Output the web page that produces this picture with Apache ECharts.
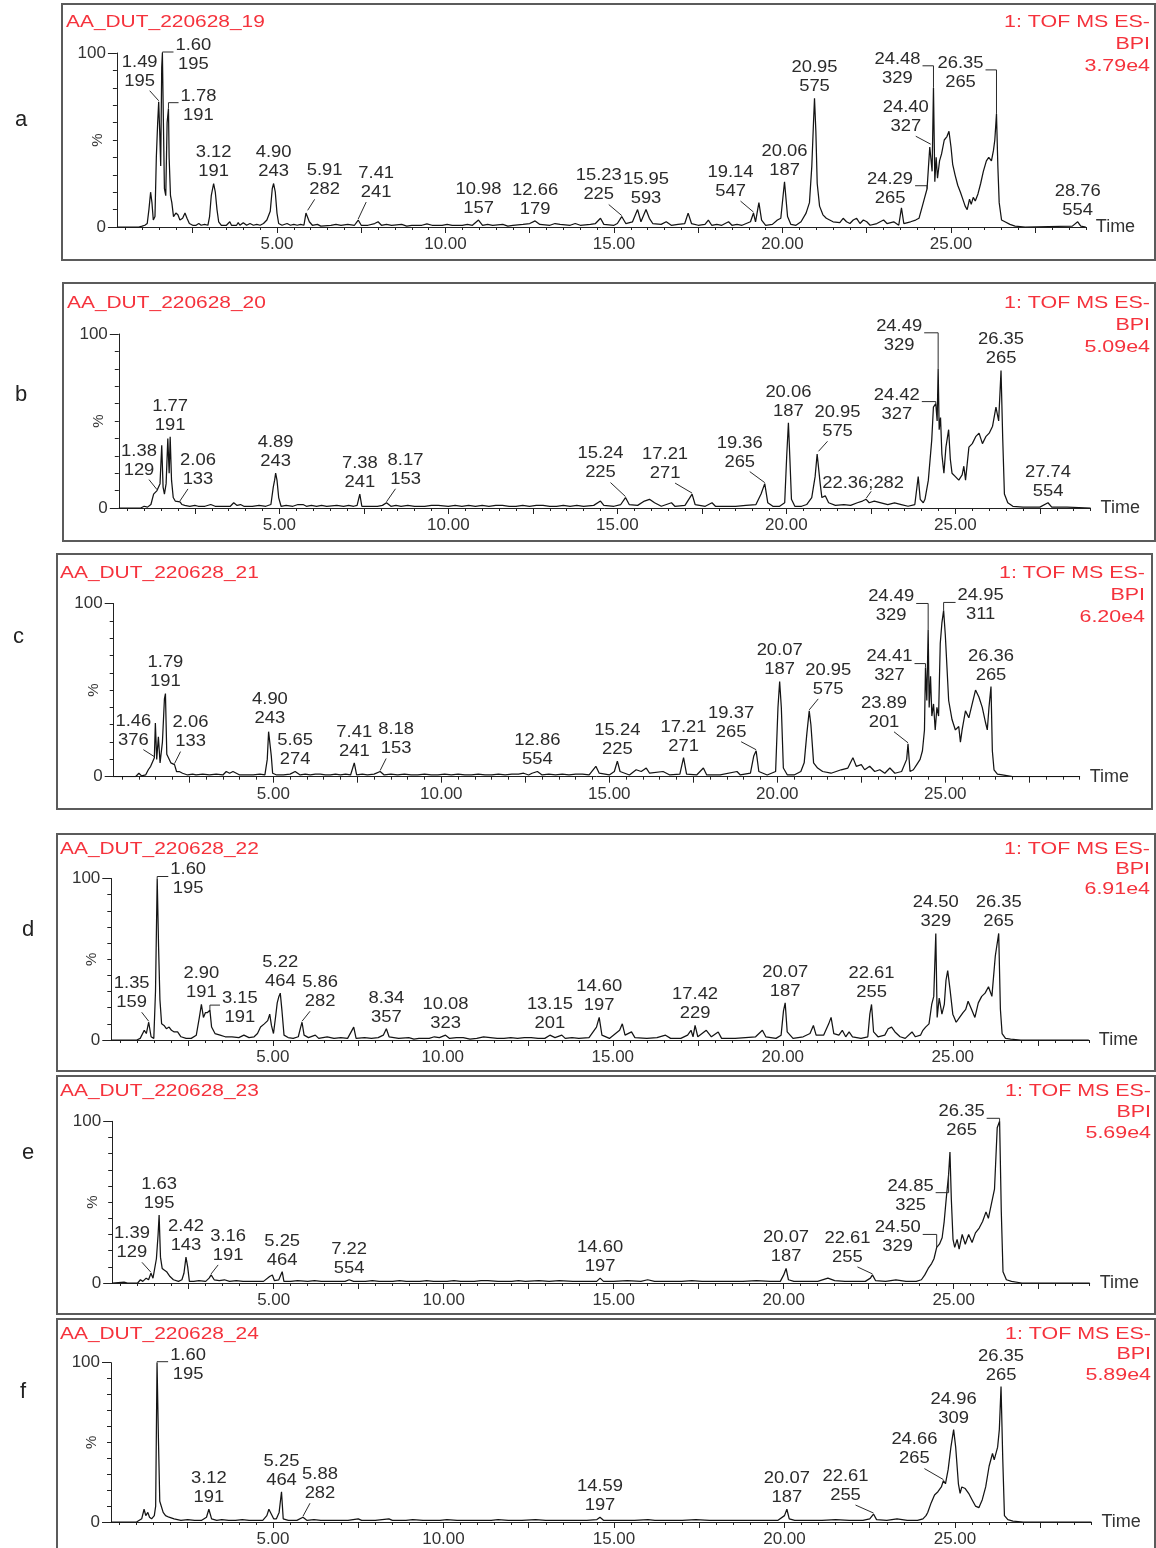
<!DOCTYPE html>
<html>
<head>
<meta charset="utf-8">
<script src="https://cdn.jsdelivr.net/npm/echarts@6/dist/echarts.min.js"></script>
<style>
  html, body { margin: 0; padding: 0; background: #fff; }
  #chart { width: 1156px; height: 1548px; }
</style>
</head>
<body>
<div id="chart"></div>
<script>
// ---------- data: base peak intensity chromatograms (retention time in min, relative %) ----------
const sampleNames = ['AA_DUT_220628_19', 'AA_DUT_220628_20', 'AA_DUT_220628_21',
                     'AA_DUT_220628_22', 'AA_DUT_220628_23', 'AA_DUT_220628_24'];
const bpiMax = ['3.79e4', '5.09e4', '6.20e4', '6.91e4', '5.69e4', '5.89e4'];
const panelLetters = ['a', 'b', 'c', 'd', 'e', 'f'];

const xLabelValues = [5, 10, 15, 20, 25];
const xMajorTicks = [2.5, 5, 7.5, 10, 12.5, 15, 17.5, 20, 22.5, 25, 27.5];
const xMinorTicks = [0.5, 1, 1.5, 2, 3, 3.5, 4, 4.5, 5.5, 6, 6.5, 7, 8, 8.5, 9, 9.5, 10.5, 11, 11.5, 12,
  13, 13.5, 14, 14.5, 15.5, 16, 16.5, 17, 18, 18.5, 19, 19.5, 20.5, 21, 21.5, 22, 23, 23.5, 24, 24.5,
  25.5, 26, 26.5, 27, 28, 28.5, 29];
const yLabelValues = [0, 100];
const yMinorTicks = [10, 20, 30, 40, 50, 60, 70, 80, 90];

const traceA = [[0.25,0],[0.9,0],[1.0,0.5],[1.08,1],[1.15,2],[1.2,10],[1.25,20],[1.29,14],[1.33,4],[1.38,6],[1.42,40],[1.46,60],[1.49,72],[1.52,55],[1.55,35],[1.58,92],[1.60,100],[1.63,60],[1.66,22],[1.7,18],[1.74,60],[1.78,68],[1.8,40],[1.84,18],[1.88,14],[1.93,6],[2.0,8],[2.06,7],[2.12,4],[2.2,5],[2.27,8],[2.33,5],[2.4,2],[2.5,1],[2.6,1],[2.68,2],[2.75,1],[2.85,1.5],[2.95,1],[3.0,6],[3.05,18],[3.12,25],[3.17,20],[3.22,10],[3.27,3],[3.35,1],[3.5,1],[3.6,3],[3.65,1],[3.7,2],[3.8,1],[3.85,2.5],[3.9,1],[4.0,2.5],[4.1,1],[4.2,2],[4.3,1],[4.4,1.5],[4.5,1],[4.6,2],[4.7,4],[4.8,9],[4.86,22],[4.90,25],[4.95,20],[5.0,8],[5.05,2],[5.15,1],[5.3,2],[5.4,1],[5.5,1.5],[5.6,1],[5.7,1.5],[5.8,1],[5.86,8],[5.91,9],[5.96,3],[6.05,1],[6.2,1.5],[6.3,0.5],[6.6,1],[6.75,1.5],[6.9,1],[7.1,1.5],[7.3,1],[7.41,4],[7.5,1],[7.7,1],[7.9,2],[8.0,3],[8.1,1],[8.25,1.5],[8.4,1],[8.7,1.5],[8.85,0.5],[9.0,1],[9.3,1],[9.45,1.8],[9.6,1],[9.9,1],[10.05,1.5],[10.2,1],[10.5,1],[10.65,1.5],[10.8,1],[10.98,4],[11.1,1],[11.25,1.5],[11.4,1],[11.7,1.5],[11.85,0.5],[12.0,1],[12.3,1.5],[12.5,2],[12.66,3.5],[12.8,1.5],[13.1,1],[13.25,2],[13.4,1.5],[13.7,1],[13.85,2],[14.0,1],[14.3,1.5],[14.45,2],[14.6,5],[14.7,1.5],[15.0,1],[15.1,2],[15.23,6],[15.35,2],[15.55,3],[15.7,10],[15.8,3],[15.95,10],[16.05,5],[16.15,2],[16.4,1.5],[16.55,3],[16.7,1],[16.9,1.5],[17.1,2],[17.2,8],[17.3,2],[17.5,1],[17.7,1.5],[17.8,4],[17.9,1],[18.05,1.5],[18.2,1],[18.4,3],[18.5,1],[18.65,1.5],[18.8,1],[19.05,3],[19.14,8],[19.2,3],[19.3,14],[19.38,4],[19.5,1],[19.7,1.5],[19.85,4],[19.95,5],[20.06,26],[20.15,6],[20.25,1.5],[20.4,1],[20.55,3],[20.7,8],[20.8,14],[20.87,35],[20.92,60],[20.95,74],[20.99,55],[21.03,25],[21.1,12],[21.2,7],[21.3,5],[21.5,3],[21.7,2.5],[21.8,5],[21.9,3],[22.0,2],[22.1,4],[22.2,5],[22.3,2],[22.4,4],[22.5,3],[22.6,1],[22.8,2],[23.0,4],[23.1,2],[23.3,3],[23.45,1],[23.53,11],[23.6,2],[23.8,3],[23.95,4],[24.05,5],[24.15,12],[24.22,17],[24.29,22],[24.33,34],[24.37,46],[24.40,47],[24.44,32],[24.48,80],[24.52,26],[24.56,40],[24.6,28],[24.66,38],[24.72,42],[24.8,50],[24.88,52],[24.94,55],[25.0,46],[25.05,36],[25.12,30],[25.2,24],[25.28,20],[25.35,16],[25.42,12],[25.48,10],[25.55,16],[25.6,13],[25.66,17],[25.72,15],[25.8,19],[25.88,25],[25.96,32],[26.05,38],[26.12,40],[26.2,38],[26.26,44],[26.3,50],[26.35,65],[26.39,35],[26.43,14],[26.5,4],[26.6,3],[26.75,1.5],[26.9,0.5],[27.2,0],[28.6,0.5],[28.76,3],[28.85,0.5],[29,0]];

const traceB = [[0.25,0],[0.9,0],[1.0,1],[1.1,0.5],[1.2,2],[1.28,8],[1.33,9],[1.38,10],[1.43,9],[1.47,14],[1.52,36],[1.56,12],[1.6,8],[1.65,14],[1.7,40],[1.74,20],[1.77,41],[1.81,16],[1.86,6],[1.92,4],[1.97,3],[2.06,3.5],[2.12,2],[2.2,1.5],[2.35,1],[2.5,1.5],[2.6,1],[2.8,1],[2.97,2],[3.1,1],[3.3,1],[3.55,1],[3.65,3],[3.75,1.5],[3.85,2],[3.95,1],[4.2,1],[4.4,1.5],[4.6,1],[4.75,2],[4.82,12],[4.86,16],[4.89,20],[4.93,16],[4.98,6],[5.05,1],[5.2,1.5],[5.4,1],[5.55,2],[5.7,2],[5.8,1],[5.95,1.5],[6.1,1],[6.25,1.5],[6.4,1],[6.7,1.5],[6.9,1],[7.05,1.5],[7.2,1],[7.3,1.5],[7.38,8],[7.44,1],[7.6,1],[7.9,1],[8.05,1.5],[8.17,3],[8.3,1],[8.45,1.5],[8.6,1],[8.8,1.5],[9.0,1],[9.3,1],[9.5,1.5],[9.7,1.5],[10.0,1],[10.2,1.5],[10.4,1],[10.6,1.5],[10.8,1],[11.0,1.5],[11.2,1],[11.4,1.5],[11.6,1.5],[11.8,1],[12.0,1],[12.2,1.5],[12.4,1],[12.6,1.5],[12.8,1.5],[13.0,1],[13.2,1],[13.4,1.5],[13.6,1],[13.8,1.5],[14.0,1],[14.3,1.5],[14.5,4],[14.6,1.5],[14.9,1],[15.1,2],[15.24,6],[15.35,2],[15.6,1.5],[15.8,4],[15.95,5],[16.1,3],[16.3,1],[16.6,3],[16.7,1],[17.0,1.5],[17.21,8],[17.3,2],[17.6,1],[17.8,3],[17.9,1],[18.2,1],[18.5,1],[18.8,1.5],[19.1,2],[19.25,8],[19.36,14],[19.45,3],[19.6,1],[19.8,1],[19.95,3],[20.01,30],[20.06,49],[20.1,30],[20.15,5],[20.25,1],[20.45,1],[20.6,2],[20.75,6],[20.85,18],[20.91,31],[20.95,32],[21.0,14],[21.05,6],[21.15,7],[21.25,3],[21.45,1.5],[21.7,2],[21.9,1.5],[22.1,3],[22.25,4],[22.36,5],[22.45,3],[22.6,4],[22.8,3],[23.0,2],[23.2,3],[23.4,2],[23.6,1],[23.8,2],[23.9,18],[23.96,5],[24.05,3],[24.1,5],[24.2,16],[24.3,39],[24.35,58],[24.42,60],[24.46,50],[24.49,80],[24.52,45],[24.56,52],[24.6,31],[24.66,20],[24.72,35],[24.8,45],[24.85,28],[24.9,20],[25.0,18],[25.1,16],[25.2,19],[25.25,24],[25.3,16],[25.4,35],[25.5,37],[25.6,41],[25.7,43],[25.8,37],[25.9,41],[26.0,43],[26.1,47],[26.2,58],[26.28,50],[26.35,79],[26.4,40],[26.45,8],[26.55,3],[26.7,1],[27.0,0.5],[27.5,0.5],[27.74,3],[27.85,0.5],[28.3,0.5],[29,0]];

const traceC = [[0.25,0],[0.9,0],[1.0,2],[1.08,0.5],[1.2,1],[1.28,4],[1.35,6],[1.4,6],[1.46,11],[1.49,31],[1.53,10],[1.58,23],[1.63,8],[1.7,20],[1.76,45],[1.79,48],[1.83,13],[1.88,14],[1.95,8],[2.06,7],[2.12,3],[2.2,3],[2.3,2],[2.45,1],[2.6,1.5],[2.7,1],[2.9,1.5],[3.1,1],[3.3,1.5],[3.5,1],[3.6,3],[3.7,2],[3.8,3],[3.9,2],[4.0,1],[4.2,1],[4.4,1],[4.6,1.5],[4.75,1],[4.82,10],[4.86,26],[4.90,27],[4.94,12],[4.98,2],[5.1,1],[5.3,1],[5.5,1.5],[5.65,3],[5.8,1],[5.95,1.5],[6.1,1],[6.25,1.5],[6.4,1.5],[6.55,1],[6.7,1],[6.85,1.5],[7.0,1],[7.15,1.5],[7.3,1],[7.41,8],[7.48,1],[7.65,1.5],[7.8,1],[8.0,1.5],[8.18,3],[8.3,1],[8.5,1.5],[8.7,1],[8.9,1.5],[9.1,1],[9.3,1],[9.5,1.5],[9.7,1],[9.9,1],[10.1,1.5],[10.3,1],[10.5,1.5],[10.7,1],[10.9,1],[11.1,1.5],[11.3,1],[11.5,1],[11.7,1.5],[11.9,1],[12.1,1.5],[12.3,1.5],[12.45,2],[12.6,1],[12.7,2],[12.86,3],[13.0,1],[13.2,1.5],[13.4,1],[13.6,1.5],[13.8,1],[14.0,1.5],[14.2,1.5],[14.4,1],[14.6,6],[14.7,2],[15.0,1],[15.15,3],[15.24,9],[15.32,3],[15.6,1],[15.8,4],[15.95,3],[16.1,5],[16.2,2],[16.6,3],[16.8,1],[17.1,1.5],[17.21,11],[17.3,1.5],[17.6,1],[17.8,5],[17.9,1],[18.3,1],[18.8,3],[18.9,1],[19.2,2],[19.3,12],[19.37,15],[19.45,3],[19.7,1],[19.95,3],[20.02,40],[20.07,55],[20.12,40],[20.18,5],[20.3,1],[20.5,1],[20.7,3],[20.8,8],[20.88,25],[20.95,38],[21.0,30],[21.08,8],[21.2,5],[21.35,3],[21.6,2],[21.9,4],[22.1,5],[22.25,11],[22.35,6],[22.5,7],[22.6,4],[22.75,6],[22.9,3],[23.05,4],[23.2,2],[23.35,5],[23.5,2],[23.7,3],[23.85,10],[23.89,19],[23.95,3],[24.05,4],[24.15,7],[24.25,10],[24.32,15],[24.38,27],[24.41,63],[24.45,44],[24.49,85],[24.52,40],[24.56,58],[24.6,35],[24.65,42],[24.7,27],[24.75,40],[24.8,35],[24.85,77],[24.9,89],[24.95,96],[25.0,82],[25.05,63],[25.1,44],[25.2,33],[25.3,27],[25.4,29],[25.45,20],[25.5,27],[25.6,38],[25.7,34],[25.8,42],[25.9,50],[26.0,46],[26.1,40],[26.2,31],[26.25,27],[26.3,40],[26.36,52],[26.4,15],[26.45,4],[26.55,1.5],[26.7,1],[27.0,0],[29,0]];

const traceD = [[0.25,0],[1.0,0],[1.1,1],[1.22,6],[1.28,4],[1.35,11],[1.42,2],[1.5,1],[1.55,30],[1.60,100],[1.64,58],[1.68,25],[1.73,10],[1.8,9],[1.87,7],[1.95,8],[2.02,6],[2.1,5],[2.2,5],[2.3,2],[2.45,1],[2.6,1],[2.75,3],[2.84,14],[2.90,22],[2.96,14],[3.02,17],[3.08,17],[3.15,18.5],[3.2,8],[3.3,4],[3.45,3],[3.6,2],[3.8,2],[4.0,1.5],[4.15,3],[4.3,1.5],[4.45,2],[4.55,4],[4.64,8],[4.75,10],[4.85,12],[4.91,16],[4.96,9],[5.02,4],[5.08,14],[5.13,23],[5.18,27],[5.22,29],[5.27,18],[5.33,3],[5.45,1.5],[5.6,1],[5.75,2],[5.82,8],[5.86,11],[5.92,3],[6.05,1.5],[6.25,3],[6.35,1],[6.6,2],[6.8,1],[7.0,1.5],[7.2,1],[7.38,8],[7.45,1],[7.7,1.5],[7.9,1],[8.1,1.5],[8.25,3],[8.34,7],[8.42,2],[8.7,1],[9.0,1.5],[9.15,0.5],[9.3,1],[9.6,1],[9.75,2],[9.9,1.5],[10.08,3],[10.2,1],[10.4,1.5],[10.6,1.5],[10.8,0.5],[11.0,1],[11.2,2],[11.4,1.5],[11.6,1],[11.8,1],[12.0,1.5],[12.2,1],[12.4,1.5],[12.6,1.5],[12.8,1],[13.0,1],[13.15,3],[13.3,1.5],[13.5,3],[13.6,1],[13.8,1.5],[14.0,1],[14.3,1.5],[14.52,8],[14.60,14],[14.68,3],[14.9,1],[15.2,6],[15.28,10],[15.36,3],[15.55,5],[15.65,1.5],[16.0,1],[16.3,1.5],[16.55,3],[16.7,1],[17.0,1],[17.2,3],[17.3,6],[17.36,2],[17.42,9],[17.5,2],[17.75,6],[17.8,7],[17.9,2],[18.1,5],[18.2,1],[18.6,1],[18.9,1.5],[19.2,2],[19.4,6],[19.5,2],[19.8,1],[19.95,3],[20.02,18],[20.07,23],[20.13,5],[20.3,1],[20.6,2],[20.8,4],[20.9,9],[20.98,3],[21.2,3],[21.35,10],[21.42,14],[21.5,4],[21.65,3],[21.75,6],[21.85,2],[21.95,5],[22.05,2],[22.3,1],[22.5,2],[22.56,16],[22.61,22],[22.67,5],[22.8,2],[23.0,3],[23.1,7],[23.2,8],[23.3,5],[23.45,2],[23.6,1],[23.8,5],[23.9,2],[24.05,3],[24.12,6],[24.2,8],[24.3,10],[24.38,22],[24.44,27],[24.50,66],[24.54,14],[24.6,26],[24.68,16],[24.75,22],[24.8,37],[24.85,43],[24.92,31],[25.0,16],[25.1,11],[25.2,14],[25.3,17],[25.38,19],[25.45,24],[25.55,19],[25.65,14],[25.75,23],[25.85,27],[25.95,29],[26.05,33],[26.15,27],[26.25,52],[26.35,66],[26.4,19],[26.45,4],[26.55,1],[26.7,0.5],[27.0,0],[29,0]];

const traceE = [[0.25,0],[0.6,0.5],[0.7,0],[1.0,0],[1.08,2],[1.15,1],[1.25,3],[1.32,2],[1.39,6],[1.45,3],[1.55,15],[1.60,30],[1.63,42],[1.67,16],[1.72,9],[1.78,8],[1.85,7],[1.95,4],[2.05,2],[2.2,1],[2.3,2],[2.36,6],[2.42,16],[2.47,10],[2.52,1],[2.65,1],[2.8,1.5],[3.0,1],[3.1,3],[3.16,5],[3.25,2],[3.4,1.5],[3.55,2],[3.7,1],[3.9,1.5],[4.1,1],[4.3,1],[4.5,1],[4.7,1],[4.88,4],[4.96,5],[5.02,1.5],[5.15,2],[5.25,7],[5.3,1],[5.5,1],[5.7,1.5],[6.0,1],[6.2,1.5],[6.4,1],[6.8,1],[7.1,1],[7.22,2],[7.35,1],[7.7,1],[7.9,1.5],[8.1,1],[8.5,1],[8.7,1.5],[8.9,1],[9.3,1],[9.5,1.5],[9.7,1],[10.1,1],[10.3,1.5],[10.5,1],[10.9,1],[11.1,1.5],[11.3,1.5],[11.6,1],[12.0,1],[12.2,1.5],[12.4,1],[12.8,1.5],[13.1,1],[13.4,1.5],[13.8,1],[14.2,1],[14.5,1],[14.60,3],[14.7,1],[15.0,1],[15.4,1.5],[15.8,1],[16.0,2],[16.2,1],[16.6,1],[17.0,1],[17.3,1.5],[17.6,1],[18.0,1],[18.4,1],[18.8,1],[19.2,1.5],[19.6,1],[19.9,1],[20.0,5],[20.07,9],[20.14,2],[20.3,1],[20.6,1],[21.0,1],[21.3,3],[21.5,1.5],[21.8,1],[22.1,1],[22.4,1],[22.55,3],[22.61,5],[22.7,1.5],[23.0,1],[23.3,2],[23.6,1],[23.9,1],[24.05,2],[24.15,5],[24.25,9],[24.35,12],[24.42,15],[24.50,22],[24.58,24],[24.66,28],[24.72,38],[24.78,52],[24.85,67],[24.89,81],[24.93,52],[24.98,27],[25.03,22],[25.1,27],[25.16,21],[25.25,30],[25.34,24],[25.44,30],[25.54,25],[25.64,31],[25.75,34],[25.85,38],[25.95,44],[26.02,40],[26.1,48],[26.2,58],[26.28,96],[26.35,100],[26.4,44],[26.45,7],[26.55,2],[26.7,1],[27.0,0],[29,0]];

const traceF = [[0.25,0],[1.0,0],[1.15,2],[1.22,8],[1.27,4],[1.33,6],[1.38,3],[1.44,2],[1.52,4],[1.56,10],[1.60,100],[1.64,53],[1.68,13],[1.72,12],[1.78,6],[1.85,4],[1.95,3],[2.1,2],[2.3,1],[2.5,1.5],[2.7,1],[2.9,1],[3.05,3],[3.12,8],[3.2,2],[3.35,1],[3.5,1.5],[3.7,1],[3.9,1],[4.1,1.5],[4.3,1],[4.5,1],[4.7,1],[4.82,4],[4.88,8],[4.95,5],[5.02,2],[5.1,2],[5.18,6],[5.25,19],[5.3,2],[5.45,1],[5.7,1],[5.88,3],[6.0,1],[6.2,1.5],[6.4,1],[6.8,1],[7.2,1],[7.5,2],[7.6,1],[8.0,1],[8.4,2],[8.5,1],[8.9,1],[9.1,1.5],[9.4,1],[9.9,1],[10.1,1.5],[10.4,1],[10.9,1],[11.4,1],[11.6,1.5],[11.9,1],[12.3,1],[12.7,1.5],[13.0,1],[13.4,1],[13.8,1],[14.2,1],[14.5,1.5],[14.59,3],[14.7,1],[15.2,1],[15.6,1],[16.0,1.5],[16.2,1],[16.6,1],[17.0,1],[17.4,1.5],[17.8,1],[18.2,1],[18.6,1],[19.0,1],[19.4,1],[19.8,1],[20.0,4],[20.07,8],[20.14,2],[20.3,1],[20.7,1],[21.1,1],[21.5,1.5],[21.9,1],[22.3,1],[22.5,2],[22.61,5],[22.7,1.5],[23.0,1],[23.3,2],[23.6,1],[23.9,1],[24.06,2],[24.15,4],[24.2,6],[24.3,12],[24.4,17],[24.5,19],[24.6,22],[24.66,26],[24.72,24],[24.8,33],[24.88,47],[24.96,58],[25.02,47],[25.1,24],[25.15,18],[25.2,22],[25.3,21],[25.4,18],[25.5,14],[25.6,10],[25.7,9],[25.8,14],[25.9,22],[26.0,35],[26.1,43],[26.15,39],[26.25,47],[26.3,58],[26.35,85],[26.4,40],[26.45,4],[26.55,1.5],[26.7,0.5],[27.0,0],[29,0]];

// annotated peaks: [retention time, relative intensity, base peak m/z]
const peaksA = [[1.49,72,195],[1.60,100,195],[1.78,68,191],[3.12,25,191],[4.90,25,243],[5.91,9,282],[7.41,4,241],[10.98,4,157],[12.66,3.5,179],[15.23,6,225],[15.95,10,593],[19.14,8,547],[20.06,26,187],[20.95,74,575],[24.29,22,265],[24.40,47,327],[24.48,80,329],[26.35,65,265],[28.76,3,554]];
const peaksB = [[1.38,10,129],[1.77,41,191],[2.06,3.5,133],[4.89,20,243],[7.38,8,241],[8.17,3,153],[15.24,6,225],[17.21,8,271],[19.36,14,265],[20.06,49,187],[20.95,32,575],[22.36,5,282],[24.42,60,327],[24.49,80,329],[26.35,79,265],[27.74,3,554]];
const peaksC = [[1.46,11,376],[1.79,48,191],[2.06,7,133],[4.90,27,243],[5.65,3,274],[7.41,8,241],[8.18,3,153],[12.86,3,554],[15.24,9,225],[17.21,11,271],[19.37,15,265],[20.07,55,187],[20.95,38,575],[23.89,19,201],[24.41,63,327],[24.49,85,329],[24.95,96,311],[26.36,52,265]];
const peaksD = [[1.35,11,159],[1.60,100,195],[2.90,22,191],[3.15,18.5,191],[5.22,29,464],[5.86,11,282],[8.34,7,357],[10.08,3,323],[13.15,3,201],[14.60,14,197],[17.42,9,229],[20.07,23,187],[22.61,22,255],[24.50,66,329],[26.35,66,265]];
const peaksE = [[1.39,6,129],[1.63,42,195],[2.42,16,143],[3.16,5,191],[5.25,7,464],[7.22,2,554],[14.60,3,197],[20.07,9,187],[22.61,5,255],[24.50,22,329],[24.85,67,325],[26.35,100,265]];
const peaksF = [[1.60,100,195],[3.12,8,191],[5.25,19,464],[5.88,3,282],[14.59,3,197],[20.07,8,187],[22.61,5,255],[24.66,26,265],[24.96,58,309],[26.35,85,265]];

// ---------- label placement (pixel offsets from the peak apex) ----------
// 'd' = slanted leader, 'r' = bracket with label on the right, 'l' = bracket with label on the left,
// 's' = single-line label; peaks not listed get a label centred above the apex.
const labelPosA = {'1.49':['d',-19,-30],'1.60':['r',31,2],'1.78':['r',30,-3],'5.91':['d',17,-31],'7.41':['d',18,-37],
  '15.23':['d',-23,-31],'19.14':['d',-23,-31],'24.29':['l',-37,0],'24.40':['d',-25,-28],'24.48':['l',-36,-19],'26.35':['l',-36,-41]};
const labelPosB = {'1.38':['d',-18,-30],'2.06':['d',18,-32],'8.17':['d',19,-33],'15.24':['d',-25,-34],'17.21':['d',-27,-30],
  '19.36':['d',-25,-31],'20.95':['d',19,-30],'22.36':['s',-3,-16],'24.42':['l',-39,1],'24.49':['l',-39,-33]};
const labelPosC = {'1.46':['d',-21,-27],'2.06':['d',16,-32],'8.18':['d',16,-32],'19.37':['d',-25,-28],'20.95':['d',19,-31],
  '23.89':['d',-24,-31],'24.41':['l',-36,-1],'24.49':['l',-37,-23],'24.95':['r',37,-5]};
const labelPosD = {'1.35':['d',-17,-29],'1.60':['r',31,1],'3.15':['r',30,-2],'5.86':['d',18,-30]};
const labelPosE = {'1.39':['d',-19,-30],'3.16':['d',17,-29],'22.61':['d',-25,-27],'24.50':['l',-39,-10],'24.85':['l',-38,21],'26.35':['l',-38,0]};
const labelPosF = {'1.60':['r',31,2],'5.88':['d',17,-33],'22.61':['d',-28,-28],'24.66':['d',-29,-31]};

// ---------- page layout ----------
const FONT = '"Liberation Sans", Arial, sans-serif';
const RED = '#f5323c';
const INK = '#2b2b2b';
const X_MIN = 0.25, X_MAX = 29;
const LABEL_SCALE = 1.15;

// per panel: plot area (left, top, width, height), outer frame, title/letter anchors
const panels = [
  { grid: [116.9, 53, 968.9, 174],    frame: [62, 4, 1093, 256],  title: [66, 22],   right: [1150, 22, 22],  letter: [15, 120] },
  { grid: [118.8, 334, 971.8, 174],   frame: [63, 283, 1092, 258], title: [67, 303],  right: [1150, 303, 22], letter: [15, 395] },
  { grid: [113.7, 603.5, 966, 173.2], frame: [57, 554, 1095, 255], title: [60, 573],  right: [1145, 573, 22], letter: [13, 637] },
  { grid: [111.3, 878.5, 977.5, 161.5], frame: [57, 834, 1098, 237], title: [60, 849], right: [1150, 849, 20], letter: [22, 930] },
  { grid: [112.2, 1121.3, 977.5, 161.7], frame: [57, 1076, 1098, 238], title: [60, 1091], right: [1151, 1091, 21], letter: [22, 1153] },
  { grid: [111, 1362.7, 980.4, 161.6], frame: [57, 1319, 1098, 240], title: [60, 1334], right: [1151, 1334, 20.5], letter: [20, 1392] }
];
const traces = [traceA, traceB, traceC, traceD, traceE, traceF];
const peakSets = [peaksA, peaksB, peaksC, peaksD, peaksE, peaksF];
const labelSets = [labelPosA, labelPosB, labelPosC, labelPosD, labelPosE, labelPosF];

function textWidth(s) {
  let w = 0;
  for (const ch of s) w += (ch === '.' || ch === ';') ? 4.45 : 8.9;
  return w * LABEL_SCALE;
}

function peakLabelRenderer(layout) {
  return function (params, api) {
    const rt = api.value(0), val = api.value(1), mz = api.value(2);
    const key = rt.toFixed(2);
    const p = api.coord([rt, val]);
    const lay = layout[key] || ['c', 0, -21];
    const kind = lay[0];
    const cx = p[0] + lay[1], cy = p[1] + lay[2];
    const children = [];
    const single = kind === 's';
    children.push({
      type: 'text', x: cx, y: cy, scaleX: LABEL_SCALE,
      style: {
        text: single ? key + ';' + mz : key + '\n' + mz,
        fontSize: 16, fontFamily: FONT, fill: INK,
        align: 'center', verticalAlign: 'middle', lineHeight: 19
      }
    });
    const lineStyle = { stroke: INK, lineWidth: 1, fill: null };
    if (kind === 'd') {
      const sgn = lay[1] < 0 ? 1 : -1;
      children.push({ type: 'polyline', shape: { points: [[cx + sgn * 10, cy + 19], [p[0], p[1] - 1]] }, style: lineStyle });
    } else if (kind === 's') {
      children.push({ type: 'polyline', shape: { points: [[cx + 8, cy + 8], [p[0], p[1] - 1]] }, style: lineStyle });
    } else if (kind === 'r' || kind === 'l') {
      const hw = textWidth(key) / 2 + 2;
      const yb = cy - 3;
      const x0 = kind === 'r' ? cx - hw : cx + hw;
      children.push({ type: 'polyline', shape: { points: [[x0, yb], [p[0], yb], [p[0], p[1]]] }, style: lineStyle });
    }
    return { type: 'group', children: children };
  };
}

const grids = [], xAxes = [], yAxes = [], series = [], graphics = [];
const axisColor = '#222';
panels.forEach((pn, i) => {
  grids.push({ left: pn.grid[0], top: pn.grid[1], width: pn.grid[2], height: pn.grid[3], containLabel: false });
  // x axis with labels and long ticks
  xAxes.push({
    gridIndex: i, type: 'value', min: X_MIN, max: X_MAX, position: 'bottom',
    axisLine: { show: true, onZero: false, lineStyle: { color: axisColor, width: 1 } },
    axisTick: { show: true, customValues: xMajorTicks, length: 6, lineStyle: { color: axisColor, width: 1 } },
    axisLabel: { show: true, customValues: xLabelValues, formatter: v => v.toFixed(2), fontSize: 17,
      fontFamily: FONT, color: '#333', margin: 9 },
    splitLine: { show: false },
    name: 'Time', nameLocation: 'end', nameGap: 10, nameMoveOverlap: false,
    nameTextStyle: { fontSize: 18, fontFamily: FONT, color: '#333', verticalAlign: 'middle', padding: [4, 0, 0, 0] }
  });
  // short ticks every half minute
  xAxes.push({
    gridIndex: i, type: 'value', min: X_MIN, max: X_MAX, position: 'bottom',
    axisLine: { show: false }, axisLabel: { show: false }, splitLine: { show: false },
    axisTick: { show: true, customValues: xMinorTicks, length: 3, lineStyle: { color: axisColor, width: 1 } }
  });
  yAxes.push({
    gridIndex: i, type: 'value', min: 0, max: 100, position: 'left',
    axisLine: { show: true, lineStyle: { color: axisColor, width: 1 } },
    axisTick: { show: true, customValues: yLabelValues, length: 9, lineStyle: { color: axisColor, width: 1 } },
    axisLabel: { show: true, customValues: yLabelValues, fontSize: 17, fontFamily: FONT, color: '#333', margin: 11 },
    splitLine: { show: false },
    name: '%', nameLocation: 'middle', nameRotate: 90, nameGap: 12, nameMoveOverlap: false,
    nameTextStyle: { fontSize: 15, fontFamily: FONT, color: '#333' }
  });
  yAxes.push({
    gridIndex: i, type: 'value', min: 0, max: 100, position: 'left',
    axisLine: { show: false }, axisLabel: { show: false }, splitLine: { show: false },
    axisTick: { show: true, customValues: yMinorTicks, length: 4, lineStyle: { color: axisColor, width: 1 } }
  });
  series.push({
    type: 'line', xAxisIndex: 2 * i, yAxisIndex: 2 * i, data: traces[i],
    showSymbol: false, symbol: 'none', silent: true, animation: false,
    lineStyle: { color: '#141414', width: 1.25 }
  });
  series.push({
    type: 'custom', xAxisIndex: 2 * i, yAxisIndex: 2 * i, data: peakSets[i],
    coordinateSystem: 'cartesian2d', clip: false, silent: true, animation: false, z: 5,
    renderItem: peakLabelRenderer(labelSets[i])
  });

  // frame, sample name, detector text, panel letter
  graphics.push({ type: 'rect', silent: true, shape: { x: pn.frame[0], y: pn.frame[1], width: pn.frame[2], height: pn.frame[3] },
    style: { fill: null, stroke: '#5b5b5b', lineWidth: 2 } });
  graphics.push({ type: 'text', silent: true, x: pn.title[0], y: pn.title[1], scaleX: 1.23,
    style: { text: sampleNames[i], fontSize: 17, fontFamily: FONT, fill: RED, align: 'left', verticalAlign: 'middle' } });
  const rl = ['1: TOF MS ES-', 'BPI', bpiMax[i]];
  rl.forEach((t, k) => {
    graphics.push({ type: 'text', silent: true, x: pn.right[0], y: pn.right[1] + k * pn.right[2], scaleX: 1.26,
      style: { text: t, fontSize: 17, fontFamily: FONT, fill: RED, align: 'right', verticalAlign: 'middle' } });
  });
  graphics.push({ type: 'text', silent: true, x: pn.letter[0], y: pn.letter[1],
    style: { text: panelLetters[i], fontSize: 22, fontFamily: FONT, fill: '#222', align: 'left', verticalAlign: 'middle' } });
});

const chart = echarts.init(document.getElementById('chart'), null, { renderer: 'canvas' });
chart.setOption({
  backgroundColor: '#ffffff',
  animation: false,
  grid: grids,
  xAxis: xAxes,
  yAxis: yAxes,
  series: series,
  graphic: { elements: graphics }
});
</script>
</body>
</html>
